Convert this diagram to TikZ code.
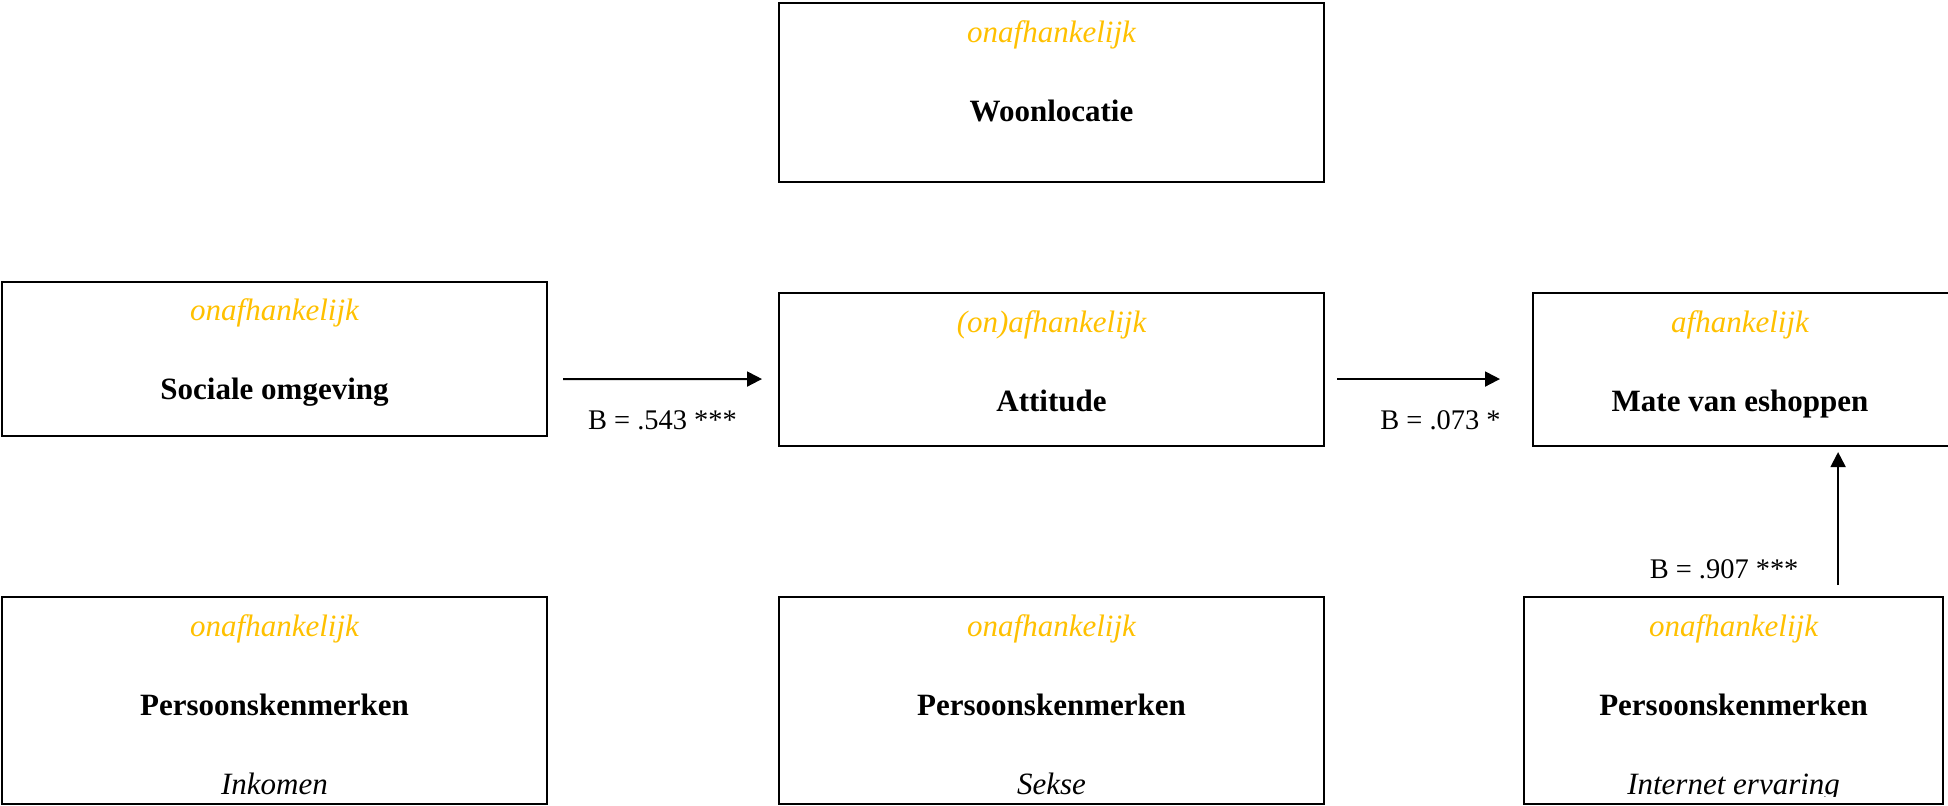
\documentclass[tikz,border=0pt]{standalone}
\usepackage{fontspec}
\setmainfont{Liberation Serif}
\usetikzlibrary{arrows.meta,calc,positioning}
\definecolor{gold}{HTML}{FFC000}

\begin{document}
\begin{tikzpicture}[x=0.387pt,y=-0.387pt,>={Triangle[length=5.8pt,width=5.8pt]},
  box/.style={draw,line width=0.8pt,inner sep=0pt,anchor=north west,minimum width=210.9pt},
  tag/.style={anchor=base,text=gold,font=\fontsize{12}{14}\selectfont\itshape},
  title/.style={anchor=base,font=\fontsize{12}{14}\selectfont\bfseries},
  sub/.style={anchor=base,font=\fontsize{12}{14}\selectfont\itshape},
  coef/.style={anchor=base,font=\fontsize{11}{13}\selectfont},
  link/.style={->,line width=0.75pt}]
  \useasboundingbox (0,0) rectangle (1948,805);

  % boxes
  \node[box,minimum height=69.3pt] (woon) at (778,2) {};
  \node[box,minimum height=59.6pt] (soc) at (1,281) {};
  \node[box,minimum height=59.2pt] (att) at (778,292) {};
  \node[box,minimum height=59.2pt] (mate) at (1532,292) {};
  \node[box,minimum height=80.1pt] (ink) at (1,596) {};
  \node[box,minimum height=80.1pt] (sekse) at (778,596) {};
  \node[box,minimum height=80.1pt,minimum width=162.2pt] (int) at (1523,596) {};

  % texts
  \node[tag] (woon1) at ($(woon.north)+(0,40)$) {onafhankelijk};
  \node[title] (woon2) at ($(woon.north)+(0,119)$) {Woonlocatie};
  \node[tag] (soc1) at ($(soc.north)+(0,39)$) {onafhankelijk};
  \node[title] (soc2) at ($(soc.north)+(0,118)$) {Sociale omgeving};
  \node[tag] (att1) at ($(att.north)+(0,40)$) {(on)afhankelijk};
  \node[title] (att2) at ($(att.north)+(0,119)$) {Attitude};
  \node[tag] (mate1) at ($(mate.north west)+(208,40)$) {afhankelijk};
  \node[title] (mate2) at ($(mate.north west)+(208,119)$) {Mate van eshoppen};
  \node[tag] (ink1) at ($(ink.north)+(0,40)$) {onafhankelijk};
  \node[title] (ink2) at ($(ink.north)+(0,119)$) {Persoonskenmerken};
  \node[tag] (sekse1) at ($(sekse.north)+(0,40)$) {onafhankelijk};
  \node[title] (sekse2) at ($(sekse.north)+(0,119)$) {Persoonskenmerken};
  \node[tag] (int1) at ($(int.north)+(0,40)$) {onafhankelijk};
  \node[title] (int2) at ($(int.north)+(0,119)$) {Persoonskenmerken};
  \begin{scope}
    \clip (0,0) rectangle (1948,796);
    \node[sub] (ink3) at ($(ink.north)+(0,198)$) {Inkomen};
    \node[sub] (sekse3) at ($(sekse.north)+(0,198)$) {Sekse};
    \node[sub] (int3) at ($(int.north)+(0,198)$) {Internet ervaring};
  \end{scope}

  % paths
  \draw[link] ($(soc.east)+(15,20)$) -- node[coef,yshift=-19.4pt] (b1) {B = .543 ***} ($(att.west)+(-16,9.5)$);
  \draw[link] ($(att.east)+(12,9.5)$) -- node[coef,xshift=8.5pt,yshift=-19.4pt] (b2) {B = .073 *} ($(mate.west)+(-32,9.5)$);
  \draw[link] ($(int.north)+(104.5,-11)$) coordinate (up0) -- ($(up0 |- mate.south)+(0,5)$);
  \node[coef] (b3) at ($(int.north)+(-9.5,-18)$) {B = .907 ***};
\end{tikzpicture}
\end{document}
